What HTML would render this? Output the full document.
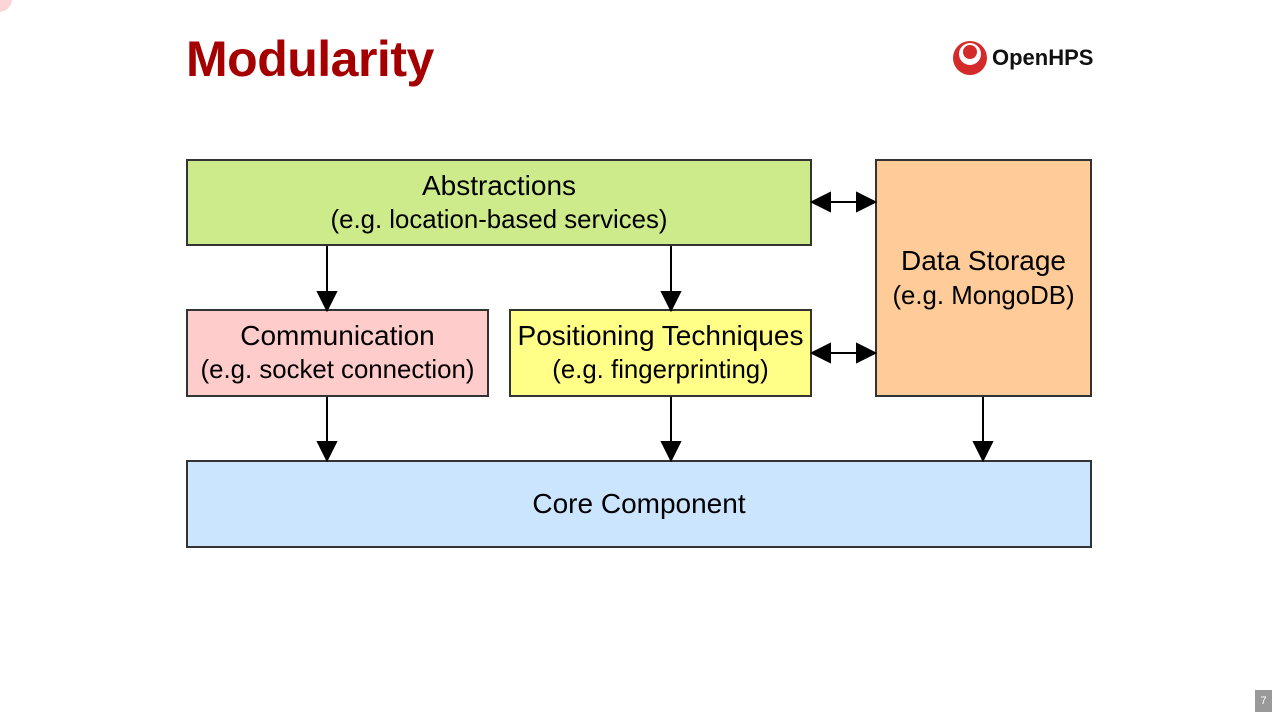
<!DOCTYPE html>
<html><head><style>
body{margin:0;width:1280px;height:720px;background:#fff;position:relative;overflow:hidden;font-family:"Liberation Sans",sans-serif}
.b{position:absolute;box-sizing:border-box;border:2px solid #333;display:flex;flex-direction:column;align-items:center;justify-content:center;text-align:center;color:#000}
.t1{font-size:28px;line-height:34px}
.t2{font-size:25.8px;line-height:34px}
</style></head><body>
<div style="position:absolute;left:-14px;top:-14px;width:26px;height:26px;border-radius:50%;background:#fcd6d6"></div>
<div style="position:absolute;left:186px;top:30px;font-size:50px;font-weight:bold;color:#a50000;font-family:'Liberation Sans',sans-serif;letter-spacing:-0.5px">Modularity</div>
<svg style="position:absolute;left:952px;top:40px" width="38" height="38" viewBox="0 0 38 38">
<circle cx="18" cy="18" r="17" fill="#d42a2a"/><circle cx="18" cy="14" r="11" fill="#fff"/><circle cx="18" cy="12" r="7" fill="#d42a2a"/></svg>
<div style="position:absolute;left:992px;top:45px;font-size:22px;font-weight:bold;color:#111">OpenHPS</div>
<div class="b" style="left:186px;top:159px;width:626px;height:87px;background:#cdeb8b"><div style="font-size:28px;line-height:34px">Abstractions</div><div class="t2">(e.g. location-based services)</div></div>
<div class="b" style="left:875px;top:159px;width:217px;height:238px;background:#ffcc99"><div class="t1" style="line-height:36px">Data Storage</div><div class="t2">(e.g. MongoDB)</div></div>
<div class="b" style="left:186px;top:309px;width:303px;height:88px;background:#ffcccc"><div class="t1">Communication</div><div class="t2">(e.g. socket connection)</div></div>
<div class="b" style="left:509px;top:309px;width:303px;height:88px;background:#ffff88"><div class="t1">Positioning Techniques</div><div class="t2">(e.g. fingerprinting)</div></div>
<div class="b" style="left:186px;top:460px;width:906px;height:88px;background:#cce5ff"><div class="t1">Core Component</div></div>
<svg style="position:absolute;left:0;top:0" width="1280" height="720">
<g stroke="#000" stroke-width="2" fill="#000">
<line x1="327" y1="246" x2="327" y2="294"/><path d="M318,292 L336,292 L327,310z"/>
<line x1="671" y1="246" x2="671" y2="294"/><path d="M662,292 L680,292 L671,310z"/>
<line x1="327" y1="397" x2="327" y2="444"/><path d="M318,442 L336,442 L327,460z"/>
<line x1="671" y1="397" x2="671" y2="444"/><path d="M662,442 L680,442 L671,460z"/>
<line x1="983" y1="397" x2="983" y2="444"/><path d="M974,442 L992,442 L983,460z"/>
<line x1="828" y1="202" x2="858" y2="202"/><path d="M812,202 L830,193 L830,211z"/><path d="M875,202 L857,193 L857,211z"/>
<line x1="828" y1="353" x2="858" y2="353"/><path d="M812,353 L830,344 L830,362z"/><path d="M875,353 L857,344 L857,362z"/>
</g></svg>
<div style="position:absolute;left:1255px;top:690px;width:17px;height:22px;background:#999;color:#fff;font-size:11px;text-align:center;line-height:22px">7</div>
</body></html>
